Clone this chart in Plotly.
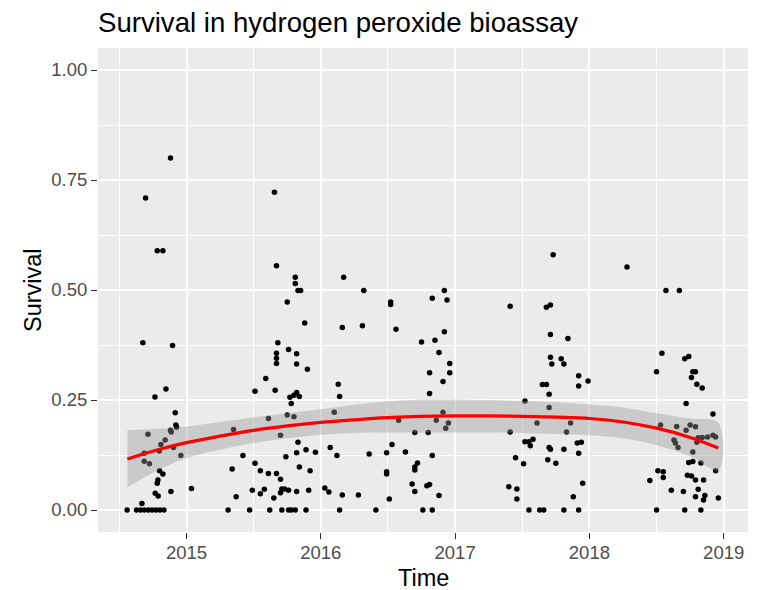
import plotly.graph_objects as go

# (decimal year, survival), one list per sampling season
season_2014 = [
    (2014.881, 0.800), (2014.695, 0.709), (2014.782, 0.589), (2014.824, 0.589),
    (2014.675, 0.380), (2014.896, 0.374), (2014.847, 0.275), (2014.765, 0.257),
    (2014.916, 0.221), (2014.921, 0.193), (2014.926, 0.188), (2014.881, 0.181),
    (2014.886, 0.177), (2014.713, 0.172), (2014.841, 0.159), (2014.809, 0.149),
    (2014.903, 0.142), (2014.797, 0.134), (2014.685, 0.129), (2014.958, 0.124),
    (2014.685, 0.111), (2014.724, 0.105), (2014.799, 0.089), (2014.824, 0.082),
    (2014.787, 0.068), (2014.782, 0.061), (2014.767, 0.038), (2014.789, 0.032),
    (2014.884, 0.042), (2015.037, 0.049), (2014.668, 0.015), (2014.558, 0.0),
    (2014.628, 0.0), (2014.657, 0.0), (2014.686, 0.0), (2014.715, 0.0),
    (2014.744, 0.0), (2014.773, 0.0), (2014.802, 0.0), (2014.832, 0.0),
]
season_2015 = [
    (2015.655, 0.722), (2015.67, 0.555), (2015.81, 0.529), (2015.81, 0.515),
    (2015.83, 0.499), (2015.85, 0.499), (2015.75, 0.473), (2015.88, 0.425),
    (2015.68, 0.380), (2015.76, 0.365), (2015.67, 0.356), (2015.67, 0.345),
    (2015.67, 0.333), (2015.82, 0.355), (2015.82, 0.332), (2015.90, 0.320),
    (2015.59, 0.299), (2015.51, 0.270), (2015.66, 0.272), (2015.82, 0.267),
    (2015.80, 0.261), (2015.84, 0.258), (2015.77, 0.256), (2015.78, 0.242),
    (2015.61, 0.208), (2015.75, 0.216), (2015.80, 0.212), (2015.35, 0.183),
    (2015.70, 0.170), (2015.83, 0.154), (2015.42, 0.124), (2015.74, 0.121),
    (2015.82, 0.130), (2015.89, 0.137), (2015.96, 0.131), (2015.34, 0.093),
    (2015.51, 0.106), (2015.55, 0.089), (2015.61, 0.083), (2015.67, 0.083),
    (2015.70, 0.070), (2015.84, 0.098), (2015.92, 0.089), (2015.37, 0.030),
    (2015.49, 0.045), (2015.55, 0.037), (2015.58, 0.047), (2015.65, 0.027),
    (2015.70, 0.039), (2015.71, 0.048), (2015.73, 0.048), (2015.76, 0.045),
    (2015.82, 0.042), (2015.91, 0.045), (2015.31, 0.0), (2015.47, 0.0),
    (2015.62, 0.0), (2015.71, 0.0), (2015.76, 0.0), (2015.78, 0.0),
    (2015.81, 0.0), (2015.89, 0.0),
]
season_2016 = [
    (2016.13, 0.286), (2016.14, 0.258), (2016.10, 0.222), (2016.07, 0.142),
    (2016.12, 0.124), (2016.03, 0.050), (2016.06, 0.041), (2016.14, 0.0),
    (2016.17, 0.529), (2016.32, 0.499), (2016.52, 0.473), (2016.52, 0.467),
    (2016.83, 0.481), (2016.92, 0.499), (2016.94, 0.477), (2016.16, 0.415),
    (2016.31, 0.419), (2016.56, 0.411), (2016.75, 0.382), (2016.85, 0.386),
    (2016.92, 0.405), (2016.88, 0.358), (2016.96, 0.333), (2016.96, 0.312),
    (2016.81, 0.312), (2016.91, 0.292), (2016.81, 0.265), (2016.58, 0.204),
    (2016.91, 0.222), (2016.86, 0.204), (2016.95, 0.198), (2016.93, 0.186),
    (2016.70, 0.176), (2016.80, 0.176), (2016.36, 0.127), (2016.49, 0.130),
    (2016.53, 0.149), (2016.63, 0.132), (2016.83, 0.124), (2016.49, 0.087),
    (2016.49, 0.082), (2016.70, 0.098), (2016.72, 0.107), (2016.70, 0.091),
    (2016.68, 0.059), (2016.70, 0.042), (2016.79, 0.055), (2016.81, 0.058),
    (2016.88, 0.033), (2016.16, 0.034), (2016.28, 0.034), (2016.51, 0.025),
    (2016.41, 0.0), (2016.76, 0.0), (2016.83, 0.0),
]
season_2017 = [
    (2017.73, 0.580), (2017.41, 0.463), (2017.68, 0.461), (2017.71, 0.466),
    (2017.71, 0.399), (2017.84, 0.390), (2017.71, 0.347), (2017.79, 0.344),
    (2017.81, 0.332), (2017.72, 0.332), (2017.92, 0.305), (2017.99, 0.293),
    (2017.92, 0.282), (2017.65, 0.285), (2017.68, 0.285), (2017.70, 0.263),
    (2017.52, 0.248), (2017.70, 0.233), (2017.61, 0.198), (2017.86, 0.198),
    (2017.41, 0.177), (2017.83, 0.177), (2017.52, 0.155), (2017.55, 0.155),
    (2017.58, 0.161), (2017.56, 0.146), (2017.70, 0.142), (2017.71, 0.138),
    (2017.81, 0.138), (2017.91, 0.152), (2017.94, 0.154), (2017.92, 0.129),
    (2017.45, 0.119), (2017.51, 0.105), (2017.69, 0.114), (2017.75, 0.106),
    (2017.40, 0.053), (2017.46, 0.048), (2017.46, 0.025), (2017.95, 0.061),
    (2017.88, 0.030), (2017.55, 0.0), (2017.63, 0.0), (2017.66, 0.0),
    (2017.81, 0.0), (2017.92, 0.0),
]
season_2018 = [
    (2018.28, 0.552), (2018.57, 0.499), (2018.67, 0.499), (2018.54, 0.356),
    (2018.71, 0.344), (2018.74, 0.349), (2018.50, 0.314), (2018.77, 0.314),
    (2018.79, 0.314), (2018.76, 0.301), (2018.80, 0.286), (2018.84, 0.277),
    (2018.72, 0.242), (2018.92, 0.218), (2018.53, 0.193), (2018.65, 0.190),
    (2018.75, 0.193), (2018.79, 0.189), (2018.72, 0.181), (2018.63, 0.159),
    (2018.64, 0.152), (2018.66, 0.142), (2018.81, 0.164), (2018.84, 0.165),
    (2018.88, 0.166), (2018.92, 0.170), (2018.94, 0.166), (2018.80, 0.154),
    (2018.77, 0.132), (2018.74, 0.108), (2018.77, 0.110), (2018.83, 0.107),
    (2018.94, 0.089), (2018.51, 0.089), (2018.55, 0.087), (2018.55, 0.074),
    (2018.45, 0.067), (2018.73, 0.079), (2018.76, 0.077), (2018.79, 0.068),
    (2018.85, 0.068), (2018.61, 0.045), (2018.70, 0.042), (2018.81, 0.047),
    (2018.79, 0.030), (2018.86, 0.033), (2018.85, 0.023), (2018.96, 0.027),
    (2018.50, 0.0), (2018.71, 0.0), (2018.83, 0.0),
]

# smoother (fit and 95% band)
smooth_t = [2014.56, 2014.8, 2015.0, 2015.25, 2015.5, 2015.75, 2016.0, 2016.25,
            2016.5, 2016.75, 2017.0, 2017.25, 2017.5, 2017.75, 2018.0, 2018.25,
            2018.5, 2018.75, 2018.96]
smooth_fit = [0.116, 0.138, 0.153, 0.168, 0.181, 0.191, 0.199, 0.205, 0.210,
              0.213, 0.214, 0.214, 0.213, 0.211, 0.208, 0.200, 0.186, 0.165, 0.141]
smooth_lo = [0.052, 0.092, 0.118, 0.137, 0.152, 0.163, 0.171, 0.175, 0.176,
             0.176, 0.176, 0.176, 0.175, 0.173, 0.170, 0.163, 0.147, 0.122, 0.090]
smooth_hi = [0.181, 0.185, 0.190, 0.200, 0.211, 0.220, 0.229, 0.239, 0.247,
             0.251, 0.251, 0.250, 0.248, 0.245, 0.240, 0.233, 0.220, 0.208, 0.198]

year_ticks = [2015, 2016, 2017, 2018, 2019]
surv_ticks = [0, 0.25, 0.5, 0.75, 1.0]
surv_labels = ["0.00", "0.25", "0.50", "0.75", "1.00"]

points = season_2014 + season_2015 + season_2016 + season_2017 + season_2018
time = [p[0] for p in points]
survival = [p[1] for p in points]

FONT = "Liberation Sans, Arial, sans-serif"
PANEL = "#EBEBEB"

fig = go.Figure()
fig.add_trace(go.Scatter(
    x=time, y=survival, mode="markers",
    marker=dict(color="black", size=5.5, line=dict(width=0)),
    showlegend=False, hoverinfo="x+y",
))
# confidence band drawn over the points, like geom_smooth
fig.add_trace(go.Scatter(
    x=smooth_t + smooth_t[::-1], y=smooth_hi + smooth_lo[::-1],
    mode="lines", fill="toself", fillcolor="rgba(153,153,153,0.4)",
    line=dict(width=0, shape="spline"), showlegend=False, hoverinfo="skip",
))
fig.add_trace(go.Scatter(
    x=smooth_t, y=smooth_fit, mode="lines",
    line=dict(color="red", width=3.2, shape="spline"),
    showlegend=False,
))

axis_common = dict(
    showgrid=True, gridcolor="white", gridwidth=2,
    zeroline=False, showline=False, automargin=False,
    ticks="outside", ticklen=6, tickwidth=1, tickcolor="#333333",
    tickfont=dict(family=FONT, size=18.5, color="#4D4D4D"),
)

fig.update_xaxes(
    range=[2014.341, 2019.181], tickvals=year_ticks,
    ticktext=[str(y) for y in year_ticks], ticklabelstandoff=-2,
    minor=dict(dtick=0.5, tick0=2014.5, showgrid=True, gridcolor="white",
               gridwidth=1, ticks=""),
    **axis_common,
)
fig.update_yaxes(
    range=[-0.05, 1.05], tickvals=surv_ticks, ticktext=surv_labels,
    minor=dict(dtick=0.125, tick0=0.125, showgrid=True, gridcolor="white",
               gridwidth=1, ticks=""),
    **axis_common,
)

# axis titles placed as in the reference
fig.add_annotation(text="Time", xref="paper", yref="paper", x=0.5, y=-(578 - 532) / 484,
                   xanchor="center", yanchor="middle", showarrow=False,
                   font=dict(family=FONT, size=23.5, color="black"))
fig.add_annotation(text="Survival", xref="paper", yref="paper", x=-(98 - 33) / 650, y=0.5,
                   xanchor="center", yanchor="middle", showarrow=False, textangle=-90,
                   font=dict(family=FONT, size=23.5, color="black"))

fig.update_layout(
    width=758, height=590,
    margin=dict(l=98, r=10, t=48, b=58),
    paper_bgcolor="white", plot_bgcolor=PANEL,
    title=dict(text="Survival in hydrogen peroxide bioassay",
               font=dict(family=FONT, size=27.6, color="black"),
               x=0, xref="paper", xanchor="left",
               y=1 - 22 / 590, yref="container", yanchor="middle"),
    font=dict(family=FONT),
)

# drop the default page margin so the figure sits at the window's corner
fig.write_html("out.html", config={"displayModeBar": False},
               post_script="document.body.style.margin='0';")
